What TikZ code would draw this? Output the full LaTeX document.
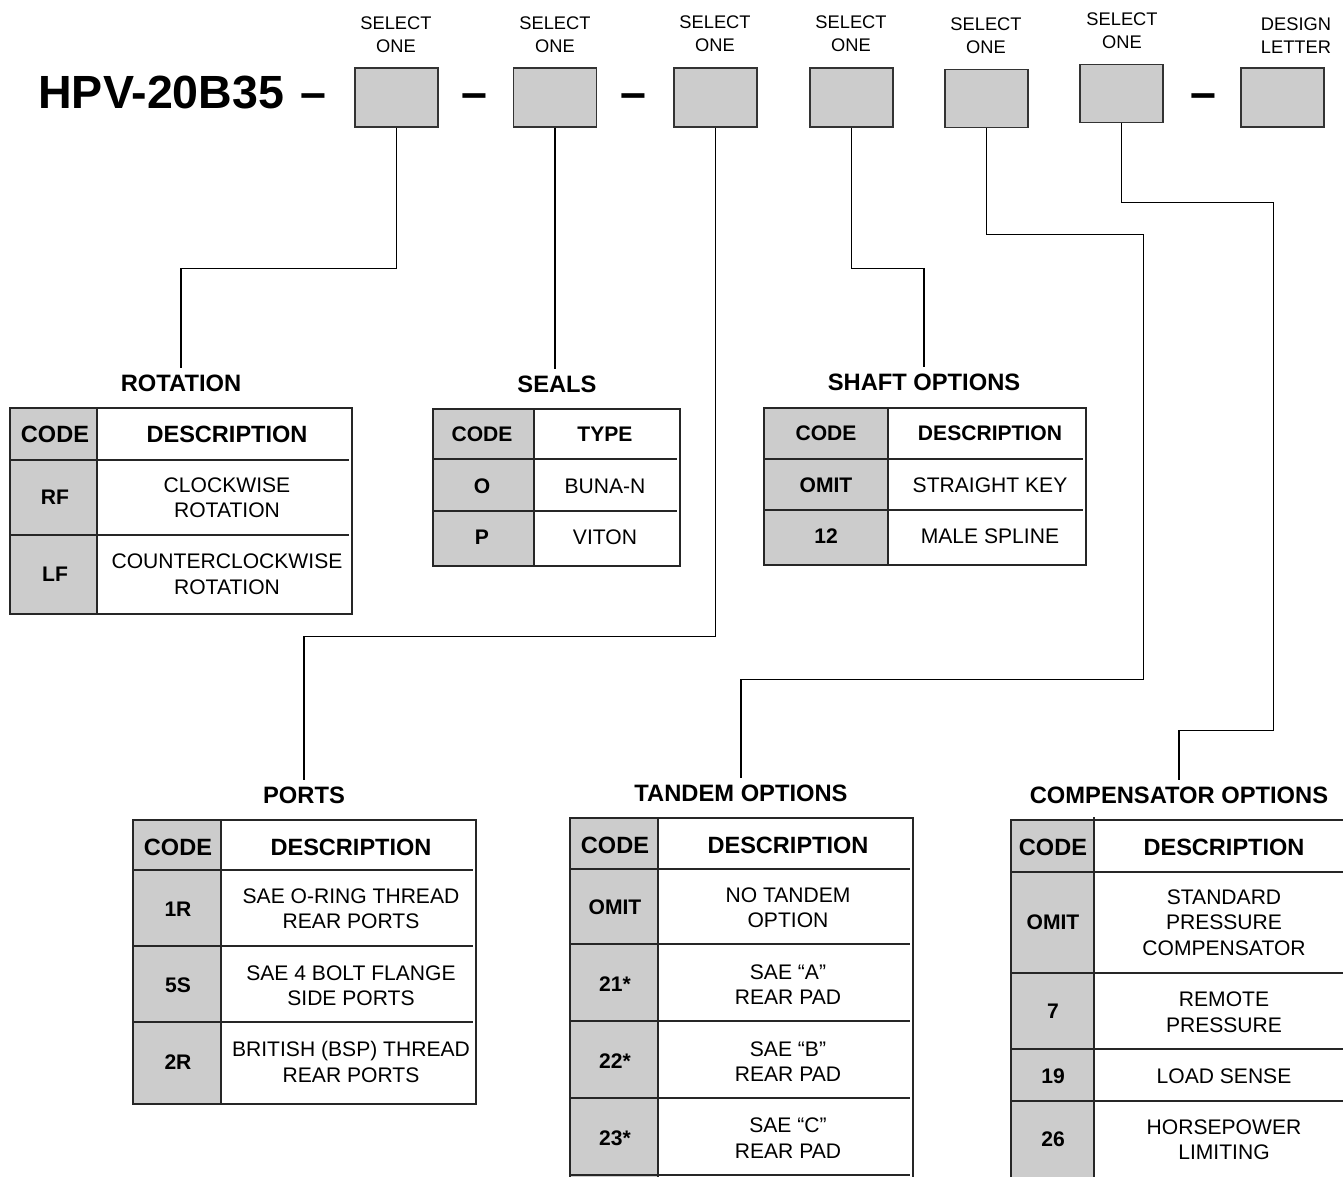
\documentclass[tikz,border=0pt]{standalone}
\usepackage{fontspec}
\setmainfont{Liberation Sans}
\usetikzlibrary{positioning}
\definecolor{boxgray}{RGB}{204,204,204}
\definecolor{edgegray}{RGB}{51,51,51}
\tikzset{
    optbox/.style={
        rectangle,
        draw=edgegray,
        fill=boxgray,
        line width=0.9pt,
        minimum width=1.66cm,
        minimum height=1.18cm,
        inner sep=0pt
    },
    seltxt/.style={align=center,font=\fontsize{10.4}{13}\selectfont,inner sep=0pt},
    bigtxt/.style={font=\bfseries\fontsize{26.5}{30}\selectfont,inner sep=0pt},
    ttl/.style={font=\bfseries\fontsize{13.5}{16}\selectfont},
    hdr/.style={font=\bfseries\fontsize{13.4}{16}\selectfont,inner sep=0pt},
    shdr/.style={font=\bfseries\fontsize{12}{14.5}\selectfont,inner sep=0pt},
    codetxt/.style={font=\bfseries\fontsize{12}{14.5}\selectfont,inner sep=0pt},
    desc/.style={align=center,font=\fontsize{12}{14.5}\selectfont,inner sep=0pt},
    tabline/.style={line width=1pt,black!85},
    link/.style={line width=0.8pt,black}
}

\begin{document}
\begin{tikzpicture}[x=0.02cm,y=-0.02cm]
\useasboundingbox (0,0) rectangle (1343,1177);

% model code and option boxes
\node[bigtxt,anchor=base west] (model) at (38,108) {HPV-20B35\hspace{0.36em}–};
\node[optbox] (b1) at (396.5,97.5) {};
\node[bigtxt,anchor=base] (d1) at (474.5,108) {–};
\node[optbox] (b2) at (555,97.5) {};
\node[bigtxt,anchor=base] (d2) at (633,108) {–};
\node[optbox] (b3) at (715.5,97.5) {};
\node[optbox] (b4) at (851.5,97.5) {};
\node[optbox,minimum height=1.16cm] (b5) at (986.5,98.5) {};
\node[optbox,minimum height=1.16cm] (b6) at (1121.5,93.5) {};
\node[bigtxt,anchor=base] (d3) at (1203,108) {–};
\node[optbox] (b7) at (1282.5,97.5) {};

\node[seltxt] (s1) at (396,34.5) {SELECT\\ONE};
\node[seltxt] (s2) at (555,34.5) {SELECT\\ONE};
\node[seltxt] (s3) at (715,34) {SELECT\\ONE};
\node[seltxt] (s4) at (851,34) {SELECT\\ONE};
\node[seltxt] (s5) at (986,35.5) {SELECT\\ONE};
\node[seltxt] (s6) at (1122,31) {SELECT\\ONE};
\node[seltxt] (s7) at (1296,35.5) {DESIGN\\LETTER};

% table titles
\node[ttl] (trot) at (181,383) {ROTATION};
\node[ttl] (tseal) at (557,384) {SEALS};
\node[ttl] (tshaft) at (924,382) {SHAFT OPTIONS};
\node[ttl] (tport) at (304,795) {PORTS};
\node[ttl] (ttand) at (741,793) {TANDEM OPTIONS};
\node[ttl] (tcomp) at (1179,795) {COMPENSATOR OPTIONS};

% leader lines
\draw[link] (b1.south) -- ++(0,141) -| (trot.north);
\draw[link] (b2.south) -- (b2.south |- tseal.north);
\draw[link] (b3.south) -- ++(0,509) -| (tport.north);
\draw[link] (b4.south) -- ++(0,141) -| (tshaft.north);
\draw[link] (b5.south) -- ++(0,106) -- ++(157,0) -- ++(0,445) -| (ttand.north);
\draw[link] (b6.south) -- ++(0,79) -- ++(152,0) -- ++(0,528) -| (tcomp.north);

% rotation
\fill[boxgray] (10,408) rectangle (97,614);
\draw[tabline] (10,408) rectangle (352,614);
\draw[tabline] (97,408) -- (97,614);
\foreach \y in {460,535} \draw[tabline] (10,\y) -- (349,\y);
\node[hdr] (rot-c) at (55,434) {CODE};
\node[hdr] (rot-d) at (227,434) {DESCRIPTION};
\node[codetxt] (rot-rf) at (55,497) {RF};
\node[desc] (rot-rf-d) at (227,497.5) {CLOCKWISE\\ROTATION};
\node[codetxt] (rot-lf) at (55,574) {LF};
\node[desc] (rot-lf-d) at (227,574) {COUNTERCLOCKWISE\\ROTATION};

% seals
\fill[boxgray] (433,409) rectangle (534,566);
\draw[tabline] (433,409) rectangle (680,566);
\draw[tabline] (534,409) -- (534,566);
\foreach \y in {459,511} \draw[tabline] (433,\y) -- (677,\y);
\node[shdr] (seal-c) at (482,434) {CODE};
\node[shdr] (seal-t) at (605,434) {TYPE};
\node[codetxt] (seal-o) at (482,486) {O};
\node[desc] (seal-o-d) at (605,486) {BUNA-N};
\node[codetxt] (seal-p) at (482,537) {P};
\node[desc] (seal-p-d) at (605,537) {VITON};

% shaft options
\fill[boxgray] (764,408) rectangle (888,565);
\draw[tabline] (764,408) rectangle (1086,565);
\draw[tabline] (888,408) -- (888,565);
\foreach \y in {459,510} \draw[tabline] (764,\y) -- (1083,\y);
\node[shdr] (shaft-c) at (826,433) {CODE};
\node[shdr] (shaft-d) at (990,433) {DESCRIPTION};
\node[codetxt] (shaft-om) at (826,485) {OMIT};
\node[desc] (shaft-om-d) at (990,485) {STRAIGHT KEY};
\node[codetxt] (shaft-12) at (826,536) {12};
\node[desc] (shaft-12-d) at (990,536) {MALE SPLINE};

% ports
\fill[boxgray] (133,820) rectangle (221,1104);
\draw[tabline] (133,820) rectangle (476,1104);
\draw[tabline] (221,820) -- (221,1104);
\foreach \y in {870,946,1022} \draw[tabline] (133,\y) -- (473,\y);
\node[hdr] (port-c) at (178,847) {CODE};
\node[hdr] (port-d) at (351,847) {DESCRIPTION};
\node[codetxt] (port-1r) at (178,909) {1R};
\node[desc] (port-1r-d) at (351,908.5) {SAE O-RING THREAD\\REAR PORTS};
\node[codetxt] (port-5s) at (178,985) {5S};
\node[desc] (port-5s-d) at (351,985.5) {SAE 4 BOLT FLANGE\\SIDE PORTS};
\node[codetxt] (port-2r) at (178,1062) {2R};
\node[desc] (port-2r-d) at (351,1062) {BRITISH (BSP) THREAD\\REAR PORTS};

% tandem options
\fill[boxgray] (570,818) rectangle (658,1177);
\draw[tabline] (570,1177) -- (570,818) -- (913,818) -- (913,1177);
\draw[tabline] (658,818) -- (658,1177);
\foreach \y in {869,944,1021,1098,1175} \draw[tabline] (570,\y) -- (910,\y);
\node[hdr] (tand-c) at (615,845) {CODE};
\node[hdr] (tand-d) at (788,845) {DESCRIPTION};
\node[codetxt] (tand-om) at (615,907) {OMIT};
\node[desc] (tand-om-d) at (788,907.5) {NO TANDEM\\OPTION};
\node[codetxt] (tand-21) at (615,984) {21*};
\node[desc] (tand-21-d) at (788,984.5) {SAE “A”\\REAR PAD};
\node[codetxt] (tand-22) at (615,1061) {22*};
\node[desc] (tand-22-d) at (788,1061.5) {SAE “B”\\REAR PAD};
\node[codetxt] (tand-23) at (615,1138) {23*};
\node[desc] (tand-23-d) at (788,1138) {SAE “C”\\REAR PAD};

% compensator options
\fill[boxgray] (1011,820) rectangle (1094,1177);
\draw[tabline] (1011,1177) -- (1011,820) -- (1343,820);
\draw[tabline] (1094,817) -- (1094,1177);
\foreach \y in {872,973,1049,1101} \draw[tabline] (1011,\y) -- (1343,\y);
\node[hdr] (comp-c) at (1053,847) {CODE};
\node[hdr] (comp-d) at (1224,847) {DESCRIPTION};
\node[codetxt] (comp-om) at (1053,922) {OMIT};
\node[desc] (comp-om-d) at (1224,922.5) {STANDARD\\PRESSURE\\COMPENSATOR};
\node[codetxt] (comp-7) at (1053,1011) {7};
\node[desc] (comp-7-d) at (1224,1012) {REMOTE\\PRESSURE};
\node[codetxt] (comp-19) at (1053,1076) {19};
\node[desc] (comp-19-d) at (1224,1076) {LOAD SENSE};
\node[codetxt] (comp-26) at (1053,1139) {26};
\node[desc] (comp-26-d) at (1224,1139.5) {HORSEPOWER\\LIMITING};
\end{tikzpicture}
\end{document}
